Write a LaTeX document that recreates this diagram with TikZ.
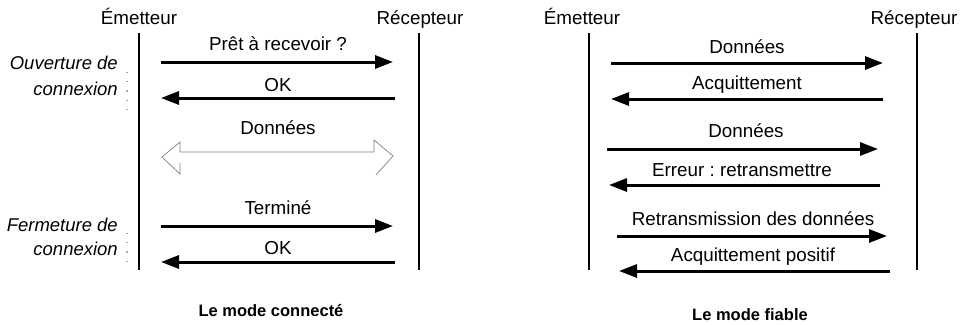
\documentclass[tikz,border=0pt]{standalone}
\usepackage{fontspec}
\setmainfont{Liberation Sans}
\usetikzlibrary{arrows.meta}
\begin{document}
\frenchspacing
\begin{tikzpicture}[x=1pt,y=-1pt,
  lbl/.style={font=\fontsize{18.8}{20}\selectfont, inner sep=0pt, anchor=base},
  side/.style={font=\fontsize{18.5}{20}\selectfont\itshape, inner sep=0pt, anchor=base east},
  title/.style={font=\fontsize{16.5}{18}\selectfont\bfseries, inner sep=0pt, anchor=base},
  lifeline/.style={line width=1.4pt},
  msg/.style={line width=3pt, -{Triangle[length=18pt,width=13pt]}},
  hollow/.style={gray, line width=0.7pt, line join=miter},
  brace/.style={gray!70, line width=1.2pt, dash pattern=on 1.2pt off 8pt}]
\useasboundingbox (0,0) rectangle (963,324);

% ---------- Le mode connecté ----------
\node[lbl] (e1) at (139,24) {Émetteur};
\node[lbl] (r1) at (420,24) {Récepteur};
\coordinate (e1top) at (139,33);  \coordinate (e1bot) at (139,270);
\coordinate (r1top) at (419,33);  \coordinate (r1bot) at (419,270);
\draw[lifeline] (e1top) -- (e1bot);
\draw[lifeline] (r1top) -- (r1bot);

\coordinate (a1s) at (161,62);  \coordinate (a1e) at (393,62);
\coordinate (a2s) at (395,98);  \coordinate (a2e) at (161,98);
\coordinate (a4s) at (161,226); \coordinate (a4e) at (393,226);
\coordinate (a5s) at (395,262); \coordinate (a5e) at (161,262);

\draw[msg] (a1s) -- (a1e);
\node[lbl] (t1) at (278,50) {Prêt à recevoir ?};
\draw[msg] (a2s) -- (a2e);
\node[lbl] (t2) at (278,91) {OK};

% hollow two-way arrow for the data exchange
\coordinate (hl) at (162,157);
\coordinate (hr) at (393,156);
\draw[hollow] (180,163) -- (180,174) -- (hl) -- (180,142) -- (180,152) -- (374,152) -- (374,140) -- (hr) -- (376,175);
\node[lbl] (t3) at (278,134) {Données};

\draw[msg] (a4s) -- (a4e);
\node[lbl] (t4) at (278,214) {Terminé};
\draw[msg] (a5s) -- (a5e);
\node[lbl] (t5) at (278,254) {OK};

\node[side] (o1) at (118,69) {Ouverture de};
\node[side] (o2) at (118,95) {connexion};
\coordinate (d1a) at (127,72); \coordinate (d1b) at (127,110);
\draw[brace] (d1a) -- (d1b);
\node[side] (f1) at (118,231) {Fermeture de};
\node[side] (f2) at (118,255) {connexion};
\coordinate (d2a) at (127,233); \coordinate (d2b) at (127,264);
\draw[brace] (d2a) -- (d2b);

\node[title] (m1) at (271,316) {Le mode connecté};

% ---------- Le mode fiable ----------
\node[lbl] (e2) at (582,24) {Émetteur};
\node[lbl] (r2) at (914,24) {Récepteur};
\coordinate (e2top) at (589,33);  \coordinate (e2bot) at (589,270);
\coordinate (r2top) at (917,33);  \coordinate (r2bot) at (917,270);
\draw[lifeline] (e2top) -- (e2bot);
\draw[lifeline] (r2top) -- (r2bot);

\coordinate (b1s) at (611,63);  \coordinate (b1e) at (883,63);
\coordinate (b2s) at (883,99);  \coordinate (b2e) at (611,99);
\coordinate (b3s) at (607,149); \coordinate (b3e) at (878,149);
\coordinate (b4s) at (880,185); \coordinate (b4e) at (609,185);
\coordinate (b5s) at (617,236); \coordinate (b5e) at (887,236);
\coordinate (b6s) at (890,271); \coordinate (b6e) at (619,271);

\draw[msg] (b1s) -- (b1e);
\node[lbl] (u1) at (747,53) {Données};
\draw[msg] (b2s) -- (b2e);
\node[lbl] (u2) at (747,89) {Acquittement};
\draw[msg] (b3s) -- (b3e);
\node[lbl] (u3) at (746,137) {Données};
\draw[msg] (b4s) -- (b4e);
\node[lbl] (u4) at (742,176) {Erreur : retransmettre};
\draw[msg] (b5s) -- (b5e);
\node[lbl] (u5) at (753,225) {Retransmission des données};
\draw[msg] (b6s) -- (b6e);
\node[lbl] (u6) at (753,261) {Acquittement positif};

\node[title] (m2) at (750,320) {Le mode fiable};
\end{tikzpicture}
\end{document}
